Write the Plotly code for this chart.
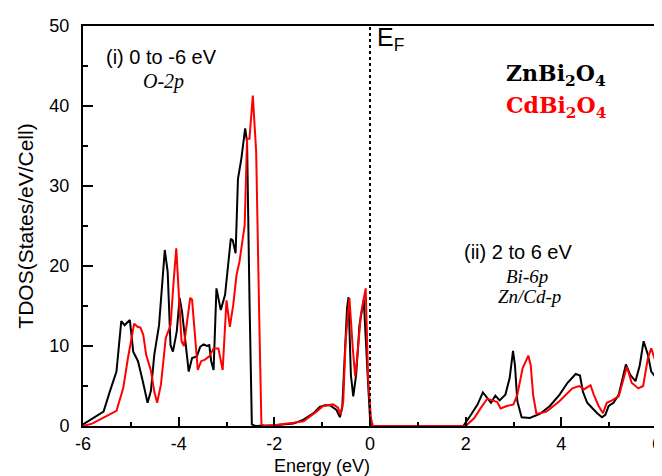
import plotly.graph_objects as go

# ---------------- data ----------------
energy_zn = [
    -6.0, -5.57, -5.44, -5.30, -5.20, -5.13, -5.08, -5.02, -4.95, -4.85,
    -4.75, -4.65, -4.58, -4.51, -4.41, -4.29, -4.23, -4.17, -4.12, -4.04,
    -3.98, -3.93, -3.86, -3.79, -3.72, -3.62, -3.55, -3.48, -3.41, -3.36,
    -3.32, -3.27, -3.21, -3.12, -3.03, -2.97, -2.91, -2.87, -2.81, -2.76,
    -2.69, -2.61, -2.57, -2.52, -2.47, -2.40, -2.0, -1.6, -1.39, -1.18,
    -1.05, -0.94, -0.84, -0.70, -0.63, -0.58, -0.53, -0.48, -0.45, -0.40,
    -0.35, -0.29, -0.22, -0.13, -0.05, 0.0, 0.05, 1.95, 2.11, 2.25,
    2.36, 2.45, 2.53, 2.62, 2.71, 2.83, 2.92, 2.99, 3.03, 3.08,
    3.17, 3.34, 3.55, 3.76, 3.96, 4.13, 4.30, 4.39, 4.45, 4.54,
    4.65, 4.75, 4.85, 4.92, 4.99, 5.09, 5.20, 5.28, 5.35, 5.44,
    5.55, 5.64, 5.72, 5.81, 5.88, 5.96, 6.0,
]
tdos_zn = [
    0.2, 1.8, 4.3, 6.8, 13.1, 12.6, 12.9, 13.25, 9.3, 8.1,
    5.6, 2.9, 4.4, 8.9, 12.6, 22.0, 19.3, 10.1, 9.3, 11.8,
    16.0, 14.3, 10.6, 6.8, 8.5, 8.7, 9.9, 10.2, 10.0, 10.1,
    8.1, 7.0, 17.2, 14.5, 16.4, 20.1, 23.4, 23.2, 21.6, 30.9,
    33.4, 37.2, 35.5, 16.0, 0.2, 0.0, 0.1, 0.3, 0.8, 1.6,
    2.4, 2.6, 2.6, 2.0, 1.1, 2.3, 8.5, 14.7, 16.1, 6.4,
    3.7, 6.4, 12.6, 15.8, 6.4, 1.0, 0.0, 0.0, 1.4, 2.7,
    4.2, 3.5, 2.9, 3.8, 3.2, 3.9, 6.0, 9.4, 7.6, 3.1,
    1.1, 1.0, 1.5, 2.5, 3.9, 5.4, 6.5, 6.3, 4.3, 2.9,
    2.2, 1.6, 1.1, 1.4, 2.5, 2.9, 3.9, 6.0, 7.7, 6.4,
    5.6, 7.6, 10.6, 8.9, 6.8, 6.2, 6.1,
]

energy_cd = [
    -6.0, -5.81, -5.30, -5.16, -5.06, -4.93, -4.86, -4.80, -4.74, -4.68,
    -4.58, -4.51, -4.45, -4.37, -4.27, -4.17, -4.10, -4.05, -4.00, -3.94,
    -3.89, -3.82, -3.76, -3.72, -3.66, -3.60, -3.53, -3.45, -3.36, -3.27,
    -3.17, -3.08, -3.00, -2.93, -2.86, -2.79, -2.73, -2.62, -2.57, -2.52,
    -2.45, -2.38, -2.31, -2.27, -2.20, -2.0, -1.6, -1.39, -1.12, -0.98,
    -0.77, -0.67, -0.62, -0.56, -0.51, -0.46, -0.43, -0.36, -0.31, -0.26,
    -0.19, -0.09, -0.04, 0.02, 0.06, 2.0, 2.18, 2.31, 2.45, 2.56,
    2.66, 2.73, 2.86, 3.00, 3.08, 3.19, 3.31, 3.36, 3.41, 3.48,
    3.69, 3.96, 4.23, 4.37, 4.48, 4.61, 4.68, 4.78, 4.87, 4.95,
    5.06, 5.20, 5.30, 5.37, 5.47, 5.61, 5.71, 5.81, 5.88, 5.96,
    6.0,
]
tdos_cd = [
    0.0, 0.3, 1.9, 4.7, 8.5, 12.8, 12.4, 12.3, 11.4, 8.9,
    6.9, 4.3, 2.9, 5.2, 11.0, 12.6, 18.5, 22.2, 16.8, 10.6,
    10.0, 13.5, 16.0, 15.8, 11.0, 7.0, 8.1, 8.3, 8.7, 9.7,
    9.7, 7.0, 15.7, 12.4, 15.1, 18.9, 20.5, 25.1, 35.9, 35.9,
    41.3, 34.3, 11.8, 0.2, 0.0, 0.1, 0.4, 0.6, 1.8, 2.5,
    2.7, 2.3, 1.4, 3.0, 10.6, 14.7, 16.0, 9.7, 6.2, 9.0,
    14.0, 17.2, 6.0, 1.0, 0.0, 0.0, 1.0, 2.2, 3.4, 3.2,
    3.0, 2.2, 2.5, 2.7, 3.9, 7.2, 8.8, 7.6, 3.9, 1.5,
    1.8, 3.1, 4.7, 5.0, 4.6, 5.1, 3.9, 2.5, 1.6, 2.9,
    3.2, 3.7, 6.0, 7.4, 5.4, 4.7, 5.0, 8.5, 9.7, 8.1,
    7.5,
]

x_ticks = [-6, -4, -2, 0, 2, 4, 6]
y_ticks = [0, 10, 20, 30, 40, 50]

# ---------------- figure ----------------
fig = go.Figure()
fig.add_trace(go.Scatter(x=energy_zn, y=tdos_zn, mode="lines",
                         line=dict(color="black", width=2), name="ZnBi2O4",
                         showlegend=False))
fig.add_trace(go.Scatter(x=energy_cd, y=tdos_cd, mode="lines",
                         line=dict(color="#ff0000", width=2), name="CdBi2O4",
                         showlegend=False))

# Fermi level
fig.add_shape(type="line", x0=0, x1=0, y0=0, y1=50, xref="x", yref="y",
              line=dict(color="black", width=2, dash="dot"))

sans = "Liberation Sans, Arial, sans-serif"
serif = "Liberation Serif, Times New Roman, serif"
boldserif = "DejaVu Serif, serif"

annots = [
    dict(x=-4.36, y=46.1, text="(i) 0 to -6 eV", font=dict(family=sans, size=20, color="black")),
    dict(x=-4.31, y=43.1, text="<i>O-2p</i>", font=dict(family=serif, size=20, color="black")),
    dict(x=0.1, y=48.35, text="E<sub>F</sub>", xanchor="left",
         font=dict(family=sans, size=25, color="black")),
    dict(x=2.8, y=43.9, text="<b>ZnBi<sub>2</sub>O<sub>4</sub></b>", xanchor="left",
         font=dict(family=boldserif, size=22, color="black")),
    dict(x=2.8, y=39.9, text="<b>CdBi<sub>2</sub>O<sub>4</sub></b>", xanchor="left",
         font=dict(family=boldserif, size=22, color="#ff0000")),
    dict(x=3.1, y=21.8, text="(ii) 2 to 6 eV", font=dict(family=sans, size=20, color="black")),
    dict(x=3.28, y=18.7, text="<i>Bi-6p</i>", font=dict(family=serif, size=19, color="black")),
    dict(x=3.34, y=16.2, text="<i>Zn/Cd-p</i>", font=dict(family=serif, size=19, color="black")),
]
for a in annots:
    a.setdefault("xanchor", "center")
    fig.add_annotation(xref="x", yref="y", showarrow=False, yanchor="middle", **a)

# x-axis title (sits left of centre in the reference)
fig.add_annotation(xref="x", yref="paper", x=-1.0, y=-0.1, showarrow=False,
                   text="Energy (eV)", xanchor="center", yanchor="middle",
                   font=dict(family=sans, size=18, color="black"))

fig.update_layout(
    width=662, height=476,
    margin=dict(l=75, r=8, t=16, b=58),
    paper_bgcolor="white", plot_bgcolor="white",
    font=dict(family=sans, size=18, color="black"),
)
fig.update_xaxes(
    range=[-6, 6], tickvals=x_ticks, ticktext=[str(v) for v in x_ticks],
    ticks="inside", ticklen=9, tickwidth=1.5, tickcolor="black",
    minor=dict(dtick=1, ticks="inside", ticklen=4, tickwidth=1.5, tickcolor="black"),
    showline=True, linecolor="black", linewidth=2, mirror=True,
    showgrid=False, zeroline=False, ticklabelstandoff=0,
    ticklabeloverflow="allow",
    tickfont=dict(family=sans, size=18, color="black"),
)
fig.update_yaxes(
    range=[0, 50], tickvals=y_ticks, ticktext=[str(v) for v in y_ticks],
    ticks="inside", ticklen=10, tickwidth=1.5, tickcolor="black",
    minor=dict(dtick=5, ticks="inside", ticklen=5, tickwidth=1.5, tickcolor="black"),
    showline=True, linecolor="black", linewidth=2, mirror=True,
    showgrid=False, zeroline=False, ticklabelstandoff=8,
    tickfont=dict(family=sans, size=18, color="black"),
    title=dict(text="TDOS(States/eV/Cell)", standoff=10,
               font=dict(family=sans, size=21, color="black")),
)

fig.write_html("out.html")
